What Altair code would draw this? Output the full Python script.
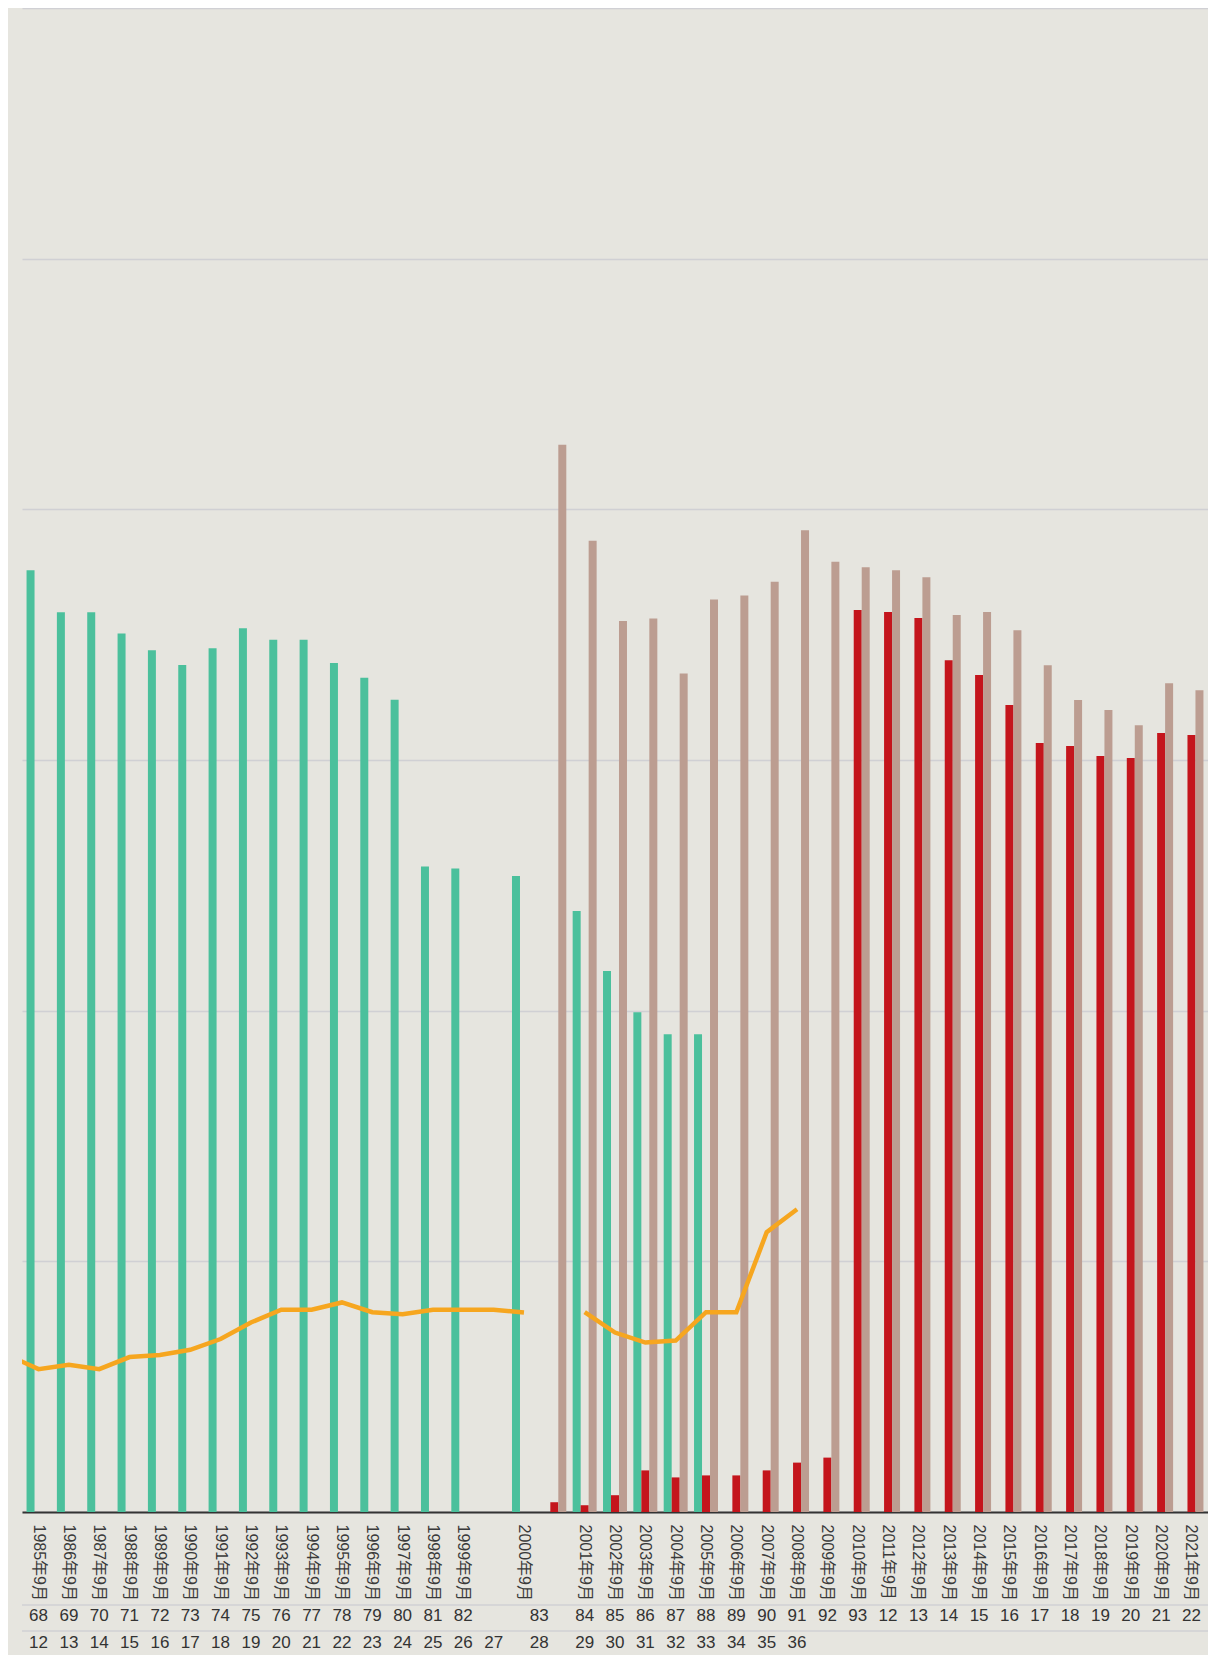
import altair as alt
import pandas as pd

# ---- data ----
LABELS = [
    "1985年9月", "1986年9月", "1987年9月", "1988年9月", "1989年9月", "1990年9月",
    "1991年9月", "1992年9月", "1993年9月", "1994年9月", "1995年9月", "1996年9月",
    "1997年9月", "1998年9月", "1999年9月", "", "2000年9月", "",
    "2001年9月", "2002年9月", "2003年9月", "2004年9月", "2005年9月", "2006年9月",
    "2007年9月", "2008年9月", "2009年9月", "2010年9月", "2011年9月", "2012年9月",
    "2013年9月", "2014年9月", "2015年9月", "2016年9月", "2017年9月", "2018年9月",
    "2019年9月", "2020年9月", "2021年9月",
]

GREEN = [375.7, 358.9, 358.9, 350.5, 343.8, 337.9, 344.6, 352.6, 348.0, 348.0,
         338.7, 332.8, 324.0, 257.5, 256.7, None, 253.7, None,
         239.8, 215.8, 199.4, 190.6, 190.6] + [None] * 16

RED = [None] * 17 + [3.9, 2.7, 6.7, 16.6, 13.8, 14.6, 14.6, 16.6, 19.7, 21.7,
                     359.8, 359.0, 356.6, 339.8, 333.9, 321.9, 306.8, 305.6,
                     301.6, 300.8, 310.8, 310.0]

BROWN = [None] * 17 + [425.8, 387.5, 355.5, 356.4, 334.5, 364.0, 365.6, 371.1,
                       391.7, 379.1, 376.9, 375.7, 372.9, 357.8, 359.0, 351.8,
                       337.8, 323.9, 319.9, 313.9, 330.6, 327.8]

# orange line: first segment starts one slot before 1985 (clipped at the edge)
LINE_A_START = -1
LINE_A = [62.5, 57.0, 58.7, 57.0, 61.8, 62.6, 64.7, 69.0, 75.6, 80.7, 80.7,
          83.6, 79.7, 78.9, 80.7, 80.7, 80.7, 79.6]
LINE_B_START = 18
LINE_B = [79.7, 71.6, 67.6, 68.4, 79.7, 79.7, 111.6, 120.8]

# table rows below the axis (cell spans in slots)
SPANS = [1] * 15 + [1, 2] + [1] * 21
ROW1 = [str(v) for v in range(68, 83)] + ["", "83"] + \
       [str(v) for v in range(84, 94)] + [str(v) for v in range(12, 23)]
ROW2 = [str(v) for v in range(12, 27)] + ["27", "28"] + \
       [str(v) for v in range(29, 37)] + [""] * 13

SERIES = ["green", "red", "brown"]
COLORS = ["#4BC09C", "#C4151C", "#BC9D91"]

# ---- layout ----
N = len(LABELS)
W, H = 1186, 1504
P_IN, P_OUT = 0.21, 0.15
TOTAL = N - P_IN + 2 * P_OUT
OFF0 = P_OUT + (1 - P_IN) / 2
QDOM = [-OFF0, TOTAL - OFF0]

bar_rows = []
for i in range(N):
    for s, vals in zip(SERIES, (GREEN, RED, BROWN)):
        if vals[i] is not None:
            bar_rows.append({"slot": i, "series": s, "value": vals[i]})
bar_df = pd.DataFrame(bar_rows)

line_rows = [{"pos": LINE_A_START + k, "value": v, "seg": "a"} for k, v in enumerate(LINE_A)]
line_rows += [{"pos": LINE_B_START + k, "value": v, "seg": "b"} for k, v in enumerate(LINE_B)]
line_df = pd.DataFrame(line_rows)

cells = []
start = 0
for span, t1, t2 in zip(SPANS, ROW1, ROW2):
    cells.append({"pos": start + (span - 1) / 2, "t1": t1, "t2": t2})
    start += span
cell_df = pd.DataFrame(cells)

label_expr = "[" + ",".join("'" + l + "'" for l in LABELS) + "][datum.value]"
FONT = "Liberation Sans, Noto Sans CJK SC, sans-serif"

yscale = alt.Scale(domain=[0, 600], nice=False, zero=True)
qx = alt.Scale(domain=QDOM, nice=False, zero=False)

bars = alt.Chart(bar_df).mark_bar().encode(
    x=alt.X("slot:O",
            scale=alt.Scale(domain=list(range(N)), paddingInner=P_IN, paddingOuter=P_OUT),
            axis=alt.Axis(title=None, labelExpr=label_expr, labelAngle=90,
                          labelAlign="left", labelBaseline="middle",
                          ticks=False, labelPadding=12, domainColor="#333333",
                          domainWidth=2, labelFontSize=16, labelColor="#3a3a3a",
                          labelFont=FONT, grid=False)),
    xOffset=alt.XOffset("series:N", scale=alt.Scale(domain=SERIES, paddingInner=0, paddingOuter=0)),
    y=alt.Y("value:Q", scale=yscale,
            axis=alt.Axis(title=None, labels=False, ticks=False, domain=False,
                          grid=True, values=[0, 100, 200, 300, 400, 500, 600],
                          gridColor="#d0d0d4", gridWidth=1.6)),
    color=alt.Color("series:N", scale=alt.Scale(domain=SERIES, range=COLORS), legend=None),
)

line = alt.Chart(line_df).mark_line(color="#F6A61F", strokeWidth=4.5, clip=True).encode(
    x=alt.X("pos:Q", scale=qx, axis=None),
    y=alt.Y("value:Q", scale=yscale),
    detail="seg:N",
)

text1 = alt.Chart(cell_df).mark_text(fontSize=17, color="#333333", font=FONT,
                                     baseline="middle").encode(
    x=alt.X("pos:Q", scale=qx, axis=None),
    y=alt.value(1608),
    text="t1:N",
)
text2 = alt.Chart(cell_df).mark_text(fontSize=17, color="#333333", font=FONT,
                                     baseline="middle").encode(
    x=alt.X("pos:Q", scale=qx, axis=None),
    y=alt.value(1635),
    text="t2:N",
)

one = pd.DataFrame({"a": [0]})
rule1 = alt.Chart(one).mark_rule(color="#d0d0d4", strokeWidth=1.5).encode(
    x=alt.value(0), x2=alt.value(W), y=alt.value(1597))
rule2 = alt.Chart(one).mark_rule(color="#d0d0d4", strokeWidth=1.5).encode(
    x=alt.value(0), x2=alt.value(W), y=alt.value(1623))

chart = alt.layer(bars, line, rule1, rule2, text1, text2).resolve_scale(
    x="independent"
).properties(
    width=W, height=H,
    autosize=alt.AutoSizeParams(type="none"),
    padding={"left": 14, "top": 0, "right": 0, "bottom": 160},
    background="#E6E5DF",
).configure_view(stroke=None)

chart.save("out.html", embed_options={"renderer": "svg", "actions": False})
